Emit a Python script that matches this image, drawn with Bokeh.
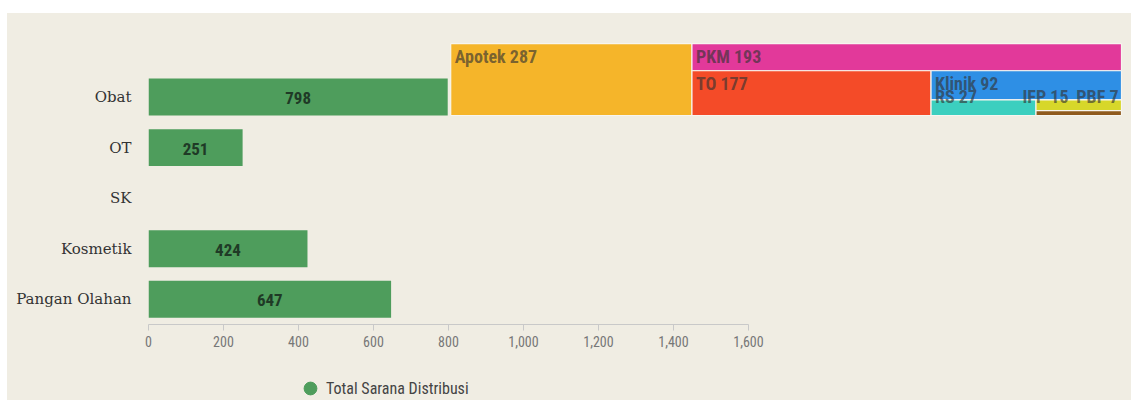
from bokeh.plotting import figure
from bokeh.models import Range1d, FixedTicker, NumeralTickFormatter, ColumnDataSource, Legend, LegendItem
from bokeh.layouts import column
from bokeh.core.properties import value
from bokeh.embed import file_html
from bokeh.resources import INLINE
import math

# ---------------- data ----------------
categories = ["Obat", "OT", "SK", "Kosmetik", "Pangan Olahan"]
totals = [798, 251, float("nan"), 424, 647]

obat_parts = ["Apotek", "PKM", "TO", "Klinik", "RS", "IFP", "PBF"]
obat_values = [287, 193, 177, 92, 27, 15, 7]
obat_colors = ["#f5b52a", "#e2399a", "#f44b28", "#2e8fe5", "#3ccfbf", "#d7d72a", "#8f5a1d"]

x_ticks = [0, 200, 400, 600, 800, 1000, 1200, 1400, 1600]
legend_label = "Total Sarana Distribusi"

# ---------------- style ----------------
BG = "#f0ede3"
GREEN = "#4e9d5c"
COND = "'Roboto Condensed', 'DejaVu Sans Condensed', Roboto"
SERIF = "'DejaVu Serif'"

W, H = 1124, 345
ML, MR, MT, MB = 141, 7, 22, 34
H2 = 387 - H
frame_w = W - ML - MR
frame_h = H - MT - MB

x_end = 2603
y_start, y_end = 4.5, -1.218
ppx = frame_w / x_end
ppy = frame_h / abs(y_start - y_end)

p = figure(width=W, height=H, output_backend="svg", toolbar_location=None,
           x_range=Range1d(0, x_end), y_range=Range1d(y_start, y_end),
           background_fill_alpha=0, border_fill_alpha=0,
           min_border_left=ML, min_border_right=MR, min_border_top=MT, min_border_bottom=MB)
p.outline_line_color = None
p.xgrid.visible = False
p.ygrid.visible = False

ys = list(range(len(categories)))

# bars
bar_src = ColumnDataSource(dict(y=ys, right=totals))
p.hbar(y="y", left=0, right="right", height=0.73, source=bar_src,
       fill_color=GREEN, line_color=None)

lab_y = [y for y, v in zip(ys, totals) if not math.isnan(v)]
lab_v = [v for v in totals if not math.isnan(v)]
lab_src = ColumnDataSource(dict(x=[v / 2 for v in lab_v], y=lab_y, t=[f"{int(v)}" for v in lab_v]))
p.text(x="x", y="y", text="t", source=lab_src, text_align="center", text_baseline="middle",
       text_font=value(COND), text_font_style="bold", text_font_size="17px",
       text_color="#1f3a26", y_offset=1)

# treemap (alternating slice layout) next to Obat bar
gap = 3 / ppx
tx0 = totals[0] + gap
tx1 = (1121 - 148) / ppx
ty0 = 0 - (96.5 - 43) / ppy   # top
ty1 = 0 + 0.73 / 2            # bottom
rects = []
x0, x1, y0, y1 = tx0, tx1, ty0, ty1
vertical = True
for i, v in enumerate(obat_values):
    rem = sum(obat_values[i:])
    if i == len(obat_values) - 1:
        rects.append((x0, x1, y0, y1))
    elif vertical:
        w = (x1 - x0) * v / rem
        rects.append((x0, x0 + w, y0, y1))
        x0 += w
    else:
        h = (y1 - y0) * v / rem
        rects.append((x0, x1, y0, y0 + h))
        y0 += h
    vertical = not vertical

tm_src = ColumnDataSource(dict(left=[r[0] for r in rects], right=[r[1] for r in rects],
                               top=[r[2] for r in rects], bottom=[r[3] for r in rects],
                               color=obat_colors))
p.quad(left="left", right="right", top="top", bottom="bottom", fill_color="color",
       line_color="#f7f5ef", line_width=1.2, source=tm_src)

# labels
lx, ly, lt, lxo, lyo, la, lb = [], [], [], [], [], [], []
for name, v, r in zip(obat_parts, obat_values, rects):
    hpx = (r[3] - r[2]) * ppy
    if hpx >= 20:
        lx.append(r[0]); ly.append(r[2]); lxo.append(4); lyo.append(2); la.append("left"); lb.append("top")
    else:
        lx.append(r[0]); ly.append(ty1); lxo.append(4); lyo.append(-9); la.append("left"); lb.append("bottom")
    lt.append(f"{name} {v}")
# small trailing labels aligned at the right edge
lx[-1] = rects[-1][1]; lxo[-1] = -3; la[-1] = "right"
lx[-2] = rects[-2][1]; lxo[-2] = -53; la[-2] = "right"

tl_src = ColumnDataSource(dict(x=lx, y=ly, t=lt, xo=lxo, yo=lyo, a=la, b=lb))
p.text(x="x", y="y", text="t", x_offset="xo", y_offset="yo", text_align="a", text_baseline="b",
       source=tl_src, text_font=value(COND), text_font_style="bold", text_font_size="18px",
       text_color="#333333", text_alpha=0.65)

# axes
p.xaxis.ticker = FixedTicker(ticks=x_ticks)
p.xaxis.formatter = NumeralTickFormatter(format="0,0")
p.xaxis.bounds = (x_ticks[0], x_ticks[-1])
p.xaxis.axis_line_color = "#c9c9c9"
p.xaxis.major_tick_line_color = "#c9c9c9"
p.xaxis.major_tick_out = 6
p.xaxis.major_tick_in = 0
p.xaxis.minor_tick_line_color = None
p.xaxis.major_label_standoff = 5
p.xaxis.major_label_text_font = COND
p.xaxis.major_label_text_font_size = "14px"
p.xaxis.major_label_text_color = "#777777"

p.yaxis.ticker = FixedTicker(ticks=ys)
p.yaxis.major_label_overrides = {i: c for i, c in enumerate(categories)}
p.yaxis.axis_line_color = None
p.yaxis.major_tick_line_color = None
p.yaxis.minor_tick_line_color = None
p.yaxis.major_tick_out = 0
p.yaxis.major_label_standoff = 17
p.yaxis.major_label_text_font = SERIF
p.yaxis.major_label_text_font_size = "15px"
p.yaxis.major_label_text_color = "#333333"

# legend in its own strip below (frame aligned with the main plot's frame)
q = figure(width=W, height=H2, output_backend="svg", toolbar_location=None,
           x_range=Range1d(0, 1), y_range=Range1d(0, 1),
           x_axis_location=None, y_axis_location=None,
           background_fill_alpha=0, border_fill_alpha=0,
           min_border_left=ML, min_border_right=MR, min_border_top=0, min_border_bottom=0)
q.outline_line_color = None
q.xgrid.visible = False
q.ygrid.visible = False
dummy = q.scatter(x=[-1], y=[-1], marker="circle", size=13, fill_color=GREEN, line_color=GREEN)
legend = Legend(items=[LegendItem(label=legend_label, renderers=[dummy])],
                location=(146, -4), background_fill_alpha=0, border_line_color=None,
                padding=0, margin=0, label_standoff=-2, glyph_width=32, glyph_height=32,
                label_text_font=COND, label_text_font_size="16px", label_text_color="#444444")
q.add_layout(legend)

layout = column(p, q, spacing=0, margin=(13, 0, 0, 7), styles={"background-color": BG})
open("out.html", "w").write(file_html(layout, INLINE))
